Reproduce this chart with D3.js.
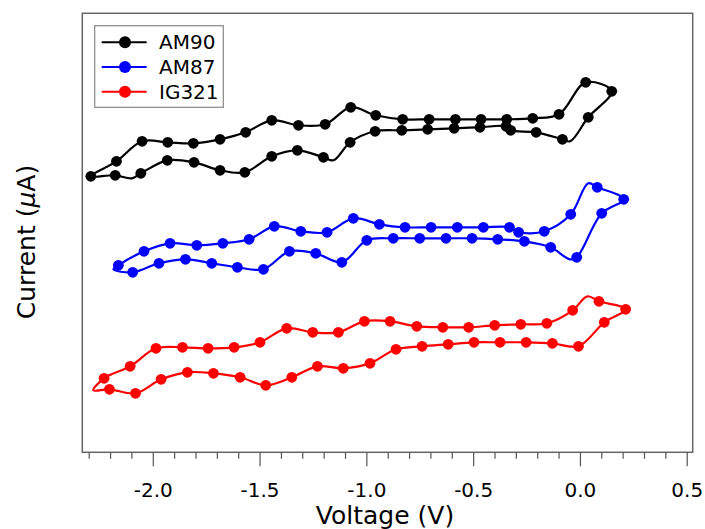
<!DOCTYPE html>
<html>
<head>
<meta charset="utf-8">
<script src="https://cdn.jsdelivr.net/npm/d3@7"></script>
<style>
  html, body { margin: 0; padding: 0; background: #fff; }
  svg { display: block; }
  text { font-family: "DejaVu Sans", sans-serif; fill: #000; }
</style>
</head>
<body>
<svg id="chart" width="705" height="529"></svg>
<script>
// ---- data: [voltage (V), current (a.u.), marker? 1/0] ----
const seriesNames = ["AM90", "AM87", "IG321"];
const seriesColors = ["#000000", "#0000ff", "#ff0000"];

const am90 = [
  [-2.29, 27.6, 1], [-2.17, 29.1, 1], [-2.05, 31.1, 1], [-1.93, 31.0, 1], [-1.81, 30.9, 1],
  [-1.685, 31.3, 1], [-1.565, 32.0, 1], [-1.443, 33.2, 1], [-1.318, 32.7, 1], [-1.193, 32.8, 1],
  [-1.073, 34.5, 1], [-0.956, 33.7, 1], [-0.83, 33.3, 1], [-0.706, 33.3, 1], [-0.583, 33.3, 1],
  [-0.463, 33.3, 1], [-0.343, 33.3, 1], [-0.221, 33.4, 1], [-0.098, 33.8, 1], [0.027, 37.0, 1],
  [0.149, 36.1, 1],
  [0.039, 33.5, 1], [-0.046, 31.1, 0], [-0.082, 31.3, 1], [-0.205, 32.0, 1], [-0.324, 32.2, 1],
  [-0.346, 32.6, 1], [-0.468, 32.5, 1], [-0.589, 32.4, 1], [-0.713, 32.3, 1], [-0.834, 32.2, 1],
  [-0.959, 32.1, 1], [-1.076, 31.0, 1], [-1.154, 29.2, 0], [-1.201, 29.5, 1], [-1.323, 30.2, 1],
  [-1.443, 29.6, 1], [-1.569, 28.0, 1], [-1.685, 28.2, 1], [-1.807, 29.0, 1], [-1.932, 29.2, 1],
  [-2.056, 27.9, 1], [-2.098, 27.4, 0], [-2.176, 27.7, 1]
];

const am87 = [
  [-2.184, 18.3, 0], [-2.161, 18.7, 1], [-2.041, 20.1, 1], [-1.919, 20.9, 1], [-1.794, 20.7, 1],
  [-1.672, 20.9, 1], [-1.549, 21.3, 1], [-1.431, 22.6, 1], [-1.307, 22.1, 1], [-1.184, 22.0, 1],
  [-1.061, 23.4, 1], [-0.939, 22.8, 1], [-0.819, 22.5, 1], [-0.697, 22.5, 1], [-0.574, 22.5, 1],
  [-0.452, 22.5, 1], [-0.330, 22.5, 1], [-0.287, 22.0, 1], [-0.167, 22.1, 1], [-0.043, 23.8, 1],
  [0.039, 26.9, 0], [0.081, 26.5, 1], [0.205, 25.3, 1],
  [0.102, 23.9, 1], [-0.015, 19.5, 1], [-0.047, 19.3, 0], [-0.137, 20.5, 1], [-0.260, 21.1, 1],
  [-0.385, 21.3, 1], [-0.505, 21.4, 1], [-0.627, 21.4, 1], [-0.750, 21.4, 1], [-0.874, 21.4, 1],
  [-0.998, 21.2, 1], [-1.115, 19.0, 1], [-1.237, 19.9, 1], [-1.360, 20.1, 1], [-1.482, 18.3, 1],
  [-1.604, 18.5, 1], [-1.724, 18.9, 1], [-1.847, 19.3, 1], [-1.971, 18.9, 1], [-2.094, 18.0, 1]
];

const ig321 = [
  [-2.278, 6.2, 0], [-2.228, 7.4, 1], [-2.106, 8.6, 1], [-1.985, 10.4, 1], [-1.861, 10.5, 1],
  [-1.741, 10.4, 1], [-1.619, 10.5, 1], [-1.498, 11.0, 1], [-1.373, 12.4, 1], [-1.251, 12.0, 1],
  [-1.131, 12.0, 1], [-1.009, 13.1, 1], [-0.889, 13.1, 1], [-0.764, 12.6, 1], [-0.642, 12.5, 1],
  [-0.521, 12.5, 1], [-0.399, 12.7, 1], [-0.277, 12.8, 1], [-0.155, 12.9, 1], [-0.034, 14.2, 1],
  [0.035, 15.6, 0], [0.089, 15.1, 1], [0.214, 14.3, 1],
  [0.114, 13.0, 1], [-0.007, 10.6, 1], [-0.129, 10.9, 1], [-0.252, 11.0, 1], [-0.374, 11.0, 1],
  [-0.496, 11.0, 1], [-0.617, 10.8, 1], [-0.739, 10.6, 1], [-0.861, 10.3, 1], [-0.983, 8.9, 1],
  [-1.108, 8.4, 1], [-1.229, 8.6, 1], [-1.349, 7.5, 1], [-1.471, 6.7, 1], [-1.591, 7.5, 1],
  [-1.716, 7.9, 1], [-1.838, 8.0, 1], [-1.961, 7.3, 1], [-2.081, 5.9, 1], [-2.203, 6.3, 1]
];

const majorTicks = [-2.0, -1.5, -1.0, -0.5, 0.0, 0.5];
const minorTicks = d3.range(-23, 6).map(d => d / 10).filter(d => !majorTicks.some(m => Math.abs(m - d) < 1e-9));
const xTitle = "Voltage (V)";
const yTitleParts = ["Current (", "\u03bc", "A)"];

// ---- layout ----
const svg = d3.select("#chart");
const plotL = 82.3, plotR = 692.7, plotT = 13.3, plotB = 452.3;
const x = d3.scaleLinear().domain([-2.33, 0.528]).range([plotL, plotR]);
const y = d3.scaleLinear().domain([0, 43.9]).range([plotB, plotT]);

const allSeries = [am90, am87, ig321];

// curves
const line = d3.line().x(d => x(d[0])).y(d => y(d[1])).curve(d3.curveCatmullRomClosed.alpha(0.5));
allSeries.forEach((s, i) => {
  const g = svg.append("g");
  g.append("path").attr("d", line(s)).attr("fill", "none")
    .attr("stroke", seriesColors[i]).attr("stroke-width", 2.2);
  g.selectAll("circle").data(s.filter(d => d[2] === 1)).join("circle")
    .attr("cx", d => x(d[0])).attr("cy", d => y(d[1])).attr("r", 5.4)
    .attr("fill", seriesColors[i]);
});

// frame
svg.append("rect").attr("x", plotL).attr("y", plotT).attr("width", plotR - plotL).attr("height", plotB - plotT)
  .attr("fill", "none").attr("stroke", "#666").attr("stroke-width", 1.5);

// x axis ticks
const minorAxis = d3.axisBottom(x).tickValues(minorTicks).tickSize(6.5).tickFormat("");
const gMinor = svg.append("g").attr("transform", `translate(0,${plotB})`).call(minorAxis);
gMinor.select(".domain").remove();
gMinor.selectAll("line").attr("stroke", "#555").attr("stroke-width", 1.2);

const majorAxis = d3.axisBottom(x).tickValues(majorTicks).tickSize(14).tickFormat(d => d.toFixed(1));
const gMajor = svg.append("g").attr("transform", `translate(0,${plotB})`).call(majorAxis);
gMajor.select(".domain").remove();
gMajor.selectAll("line").attr("stroke", "#555").attr("stroke-width", 1.2);
gMajor.selectAll("text").attr("y", 45).attr("dy", 0)
  .style("font-family", "'DejaVu Sans', sans-serif").style("font-size", "20px").attr("fill", "#000");

// axis titles
svg.append("text").attr("x", 385).attr("y", 524).attr("text-anchor", "middle")
  .style("font-size", "25px").text(xTitle);
const yt = svg.append("text").attr("transform", "translate(35,242) rotate(-90)").attr("text-anchor", "middle")
  .style("font-size", "25px");
yTitleParts.forEach((p, i) => {
  yt.append("tspan").style("font-style", i === 1 ? "italic" : "normal").text(p);
});

// legend
const lg = svg.append("g");
lg.append("rect").attr("x", 94.7).attr("y", 25.7).attr("width", 128.6).attr("height", 81.6)
  .attr("fill", "#fff").attr("stroke", "#888").attr("stroke-width", 1.2);
seriesNames.forEach((n, i) => {
  const yy = 42.3 + i * 24.7;
  lg.append("line").attr("x1", 101.7).attr("x2", 146.7).attr("y1", yy).attr("y2", yy)
    .attr("stroke", seriesColors[i]).attr("stroke-width", 2);
  lg.append("circle").attr("cx", 125).attr("cy", yy).attr("r", 6).attr("fill", seriesColors[i]);
  lg.append("text").attr("x", 159).attr("y", yy + 7).style("font-size", "20px").text(n);
});
</script>
</body>
</html>
